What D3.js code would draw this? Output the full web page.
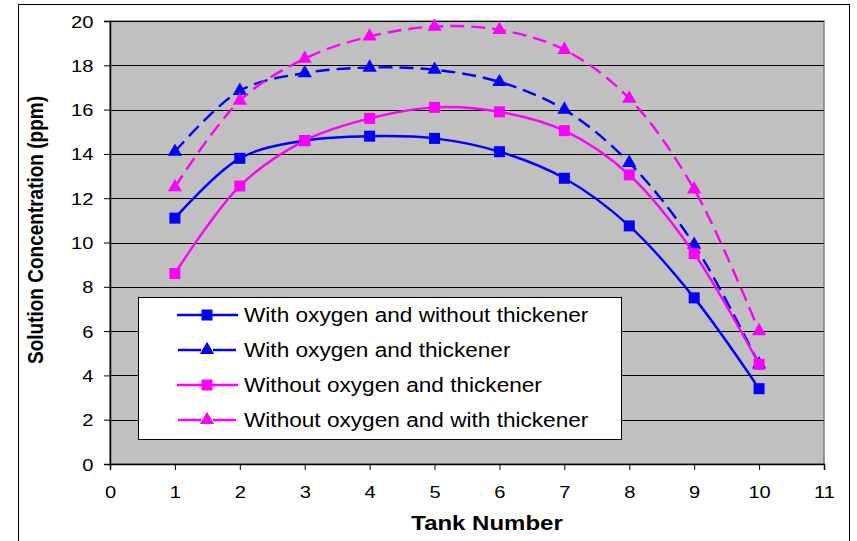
<!DOCTYPE html>
<html>
<head>
<meta charset="utf-8">
<script src="https://cdn.jsdelivr.net/npm/d3@7/dist/d3.min.js"></script>
<style>
  html, body { margin: 0; padding: 0; background: #fff; }
  svg { display: block; font-family: Arial, "Liberation Sans", sans-serif; }
</style>
</head>
<body>
<svg id="chart" width="857" height="541"></svg>
<script>
// Tank numbers and measured solution concentrations (ppm)
const tanks = [1, 2, 3, 4, 5, 6, 7, 8, 9, 10];
const withO2NoThick   = [11.1, 13.8, 14.6, 14.8, 14.7, 14.1, 12.9, 10.75, 7.5, 3.4];
const withO2Thick     = [14.1, 16.85, 17.65, 17.9, 17.8, 17.25, 16.0, 13.6, 9.9, 4.5];
const noO2Thick       = [8.6, 12.55, 14.6, 15.6, 16.1, 15.9, 15.05, 13.05, 9.5, 4.5];
const noO2WithThick   = [12.5, 16.4, 18.3, 19.3, 19.75, 19.6, 18.7, 16.5, 12.4, 6.0];

const seriesNames = [
  "With oxygen and without thickener",
  "With oxygen and thickener",
  "Without oxygen and thickener",
  "Without oxygen and with thickener"
];
const xTicks = d3.range(0, 12);
const yTicks = d3.range(0, 21, 2);

const series = [
  { name: seriesNames[0], values: withO2NoThick, color: "#0000FF", dash: null,   marker: "square" },
  { name: seriesNames[1], values: withO2Thick,   color: "#0000FF", dash: "14,7", marker: "triangle" },
  { name: seriesNames[2], values: noO2Thick,     color: "#FF00FF", dash: null,   marker: "square" },
  { name: seriesNames[3], values: noO2WithThick, color: "#FF00FF", dash: "14,7", marker: "triangle" }
];

const svg = d3.select("#chart");
const plot = { left: 110, top: 21, right: 824, bottom: 464 };

// text is drawn slightly widened horizontally
const widen = (sel, px, py, sx) => sel.attr("transform", `translate(${px},${py}) scale(${sx},1)`);

// outer chart frame
svg.append("rect")
  .attr("x", 18.5).attr("y", 4.5)
  .attr("width", 831).attr("height", 560)
  .attr("fill", "#fff").attr("stroke", "#000").attr("stroke-width", 1);

const x = d3.scaleLinear().domain([0, 11]).range([plot.left, plot.right]);
const y = d3.scaleLinear().domain([0, 20]).range([plot.bottom, plot.top]);

// plot area background
svg.append("rect")
  .attr("x", plot.left).attr("y", plot.top)
  .attr("width", plot.right - plot.left).attr("height", plot.bottom - plot.top)
  .attr("fill", "#C0C0C0").attr("stroke", "#808080").attr("stroke-width", 1.5);

// horizontal gridlines
svg.append("g").selectAll("line")
  .data(yTicks.filter(d => d > 0))
  .join("line")
  .attr("x1", plot.left).attr("x2", plot.right)
  .attr("y1", d => Math.round(y(d)) + 0.5).attr("y2", d => Math.round(y(d)) + 0.5)
  .attr("stroke", "#000").attr("stroke-width", 1);

// y axis
const yAxis = svg.append("g")
  .attr("transform", `translate(${plot.left},0)`)
  .call(d3.axisLeft(y).tickValues(yTicks).tickSize(6).tickFormat(""));
yAxis.select(".domain").attr("stroke", "#000").attr("stroke-width", 1.5);
yAxis.selectAll(".tick line").attr("stroke", "#000");
yAxis.selectAll(".tick").append("text")
  .attr("text-anchor", "end").attr("font-size", 16.5).attr("fill", "#000")
  .attr("font-family", "Arial, 'Liberation Sans', sans-serif")
  .each(function (d) {
    widen(d3.select(this), -16.5, 6, 1.22).text(d3.format("d")(d));
  });

// x axis
const xAxis = svg.append("g")
  .attr("transform", `translate(0,${plot.bottom})`)
  .call(d3.axisBottom(x).tickValues(xTicks).tickSize(6).tickFormat(""));
xAxis.select(".domain").attr("stroke", "#000").attr("stroke-width", 1.5);
xAxis.selectAll(".tick line").attr("stroke", "#000");
xAxis.selectAll(".tick").append("text")
  .attr("text-anchor", "middle").attr("font-size", 16.5).attr("fill", "#000")
  .attr("font-family", "Arial, 'Liberation Sans', sans-serif")
  .each(function (d) {
    widen(d3.select(this), 0, 34, 1.22).text(d3.format("d")(d));
  });

// axis titles
widen(svg.append("text"), 487, 530, 1.2)
  .attr("text-anchor", "middle").attr("font-size", 20).attr("font-weight", "bold")
  .text("Tank Number");
svg.append("text")
  .attr("transform", `translate(43,230) scale(1.15,1) rotate(-90)`)
  .attr("text-anchor", "middle").attr("font-size", 19).attr("font-weight", "bold")
  .text("Solution Concentration (ppm)");

// smoothed series lines
const line = d3.line()
  .x(d => x(d[0])).y(d => y(d[1]))
  .curve(d3.curveCatmullRom.alpha(0.5));

const markerPath = {
  square: d3.symbol().type(d3.symbolSquare).size(121),
  triangle: d3.symbol().type(d3.symbolTriangle).size(88)
};

series.forEach(s => {
  const pts = tanks.map((t, i) => [t, s.values[i]]);
  svg.append("path")
    .datum(pts)
    .attr("d", line)
    .attr("fill", "none")
    .attr("stroke", s.color)
    .attr("stroke-width", 2.4)
    .attr("stroke-dasharray", s.dash);
  svg.append("g").selectAll("path")
    .data(pts)
    .join("path")
    .attr("transform", d => `translate(${x(d[0])},${y(d[1])})`)
    .attr("d", markerPath[s.marker]())
    .attr("fill", s.color);
});

// legend
const legend = svg.append("g");
legend.append("rect")
  .attr("x", 138.5).attr("y", 297.5).attr("width", 483).attr("height", 142)
  .attr("fill", "#fff").attr("stroke", "#000").attr("stroke-width", 1);
series.forEach((s, i) => {
  const ly = 315 + i * 35;
  legend.append("line")
    .attr("x1", s.dash ? 178 : 177).attr("x2", s.dash ? 236 : 238).attr("y1", ly).attr("y2", ly)
    .attr("stroke", s.color).attr("stroke-width", 2.4)
    .attr("stroke-dasharray", s.dash ? "23,12" : null);
  legend.append("path")
    .attr("transform", `translate(207,${ly})`)
    .attr("d", markerPath[s.marker]())
    .attr("fill", s.color);
  widen(legend.append("text"), 244, ly + 7, 1.16)
    .attr("font-size", 19.5).attr("fill", "#000")
    .text(s.name);
});
</script>
</body>
</html>
